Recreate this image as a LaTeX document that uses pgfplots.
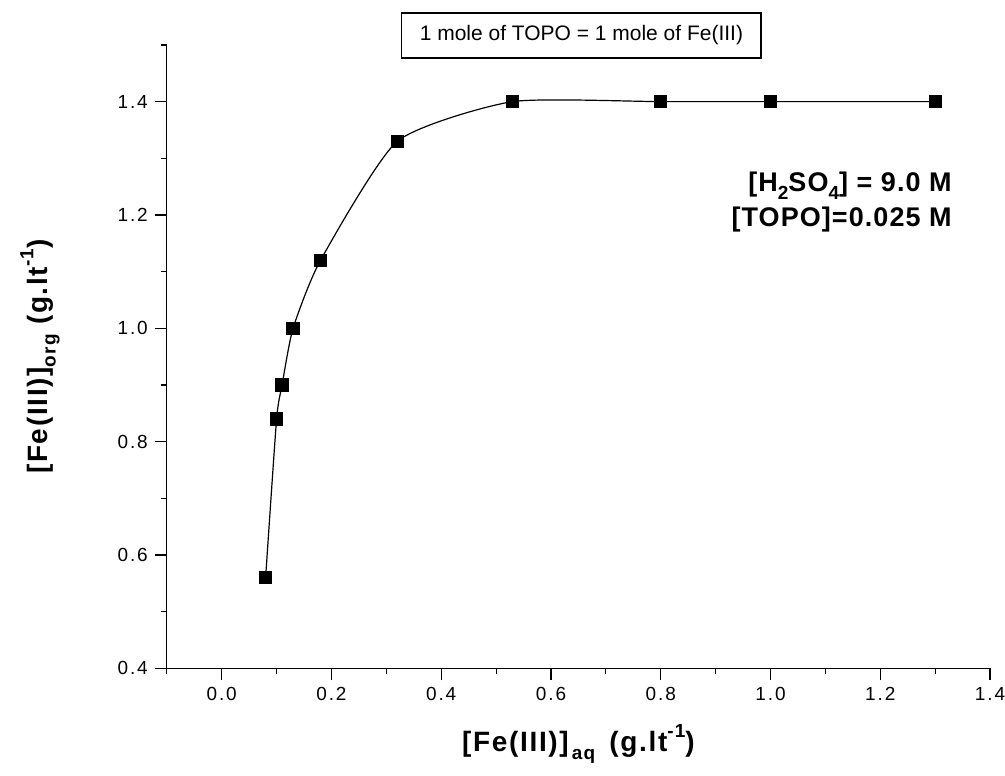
\documentclass[border=0pt]{standalone}
\usepackage{fontspec}
\setmainfont{Liberation Sans}
\usepackage{pgfplots}
\pgfplotsset{compat=1.18}

% Fe(III) loading of TOPO
\pgfplotstableread{
x     y
0.08  0.56
0.10  0.84
0.11  0.90
0.13  1.00
0.18  1.12
0.32  1.33
0.53  1.40
0.80  1.40
1.00  1.40
1.30  1.40
}\loading

\newcommand\labfont{\bfseries\fontsize{14}{16}\selectfont\addfontfeatures{LetterSpace=6}}
\newcommand\lowsub[1]{\raisebox{-0.55ex}{\fontsize{9.5}{10}\selectfont #1}}
\newcommand\highsup[1]{\raisebox{0.95ex}{\fontsize{9.5}{10}\selectfont #1}}

\begin{document}
\begin{tikzpicture}
\useasboundingbox (-83.5pt,-53.5pt) rectangle (419.5pt,334.5pt);
\begin{axis}[
  scale only axis,
  width=412pt, height=312pt,
  xmin=-0.1, xmax=1.4,
  ymin=0.4, ymax=1.5,
  axis lines=left,
  axis line style={-, line width=0.6pt},
  tick align=outside,
  xtick={0,0.2,0.4,0.6,0.8,1.0,1.2,1.4},
  ytick={0.4,0.6,0.8,1.0,1.2,1.4},
  minor xtick={-0.1,0.1,0.3,0.5,0.7,0.9,1.1,1.3},
  minor ytick={0.5,0.7,0.9,1.1,1.3,1.5},
  major tick length=6pt,
  minor tick length=3pt,
  every tick/.style={black, line width=0.6pt},
  /pgf/number format/assume math mode=true,
  /pgf/number format/.cd, fixed, fixed zerofill, precision=1,
  /pgfplots/.cd,
  tick label style={font=\fontsize{9.5}{10}\selectfont\addfontfeatures{LetterSpace=10}},
  clip=false,
]
\addplot[black, line width=0.6pt, smooth, tension=0.35,
  mark=square*, mark size=3pt, mark options={solid}]
  table[x=x, y=y] {\loading};

\node[rotate=90, font=\labfont]
  at ([xshift=-63.5pt]axis description cs:0,0.5)
  {[Fe(III)]\lowsub{org} (g.lt\highsup{-1})};
\node[font=\labfont]
  at ([yshift=-38pt]axis description cs:0.5,0)
  {[Fe(III)]\lowsub{\,aq} \,(g.lt\highsup{-1})};

\node[draw, line width=0.6pt, inner xsep=9pt, minimum height=22.5pt,
  font=\fontsize{10.5}{12}\selectfont]
  at ([xshift=207.5pt, yshift=4.75pt]axis description cs:0,1)
  {1 mole of TOPO = 1 mole of Fe(III)};

\node[anchor=base east, inner sep=0pt,
  font=\bfseries\fontsize{13.5}{15}\selectfont\addfontfeatures{LetterSpace=4}]
  at ([xshift=393pt, yshift=238.5pt]axis description cs:0,0)
  {[H\lowsub{2}SO\lowsub{4}] = 9.0 M};
\node[anchor=base east, inner sep=0pt,
  font=\bfseries\fontsize{13.5}{15}\selectfont\addfontfeatures{LetterSpace=4}]
  at ([xshift=393pt, yshift=221pt]axis description cs:0,0)
  {[TOPO]=0.025 M};
\end{axis}
\end{tikzpicture}
\end{document}
